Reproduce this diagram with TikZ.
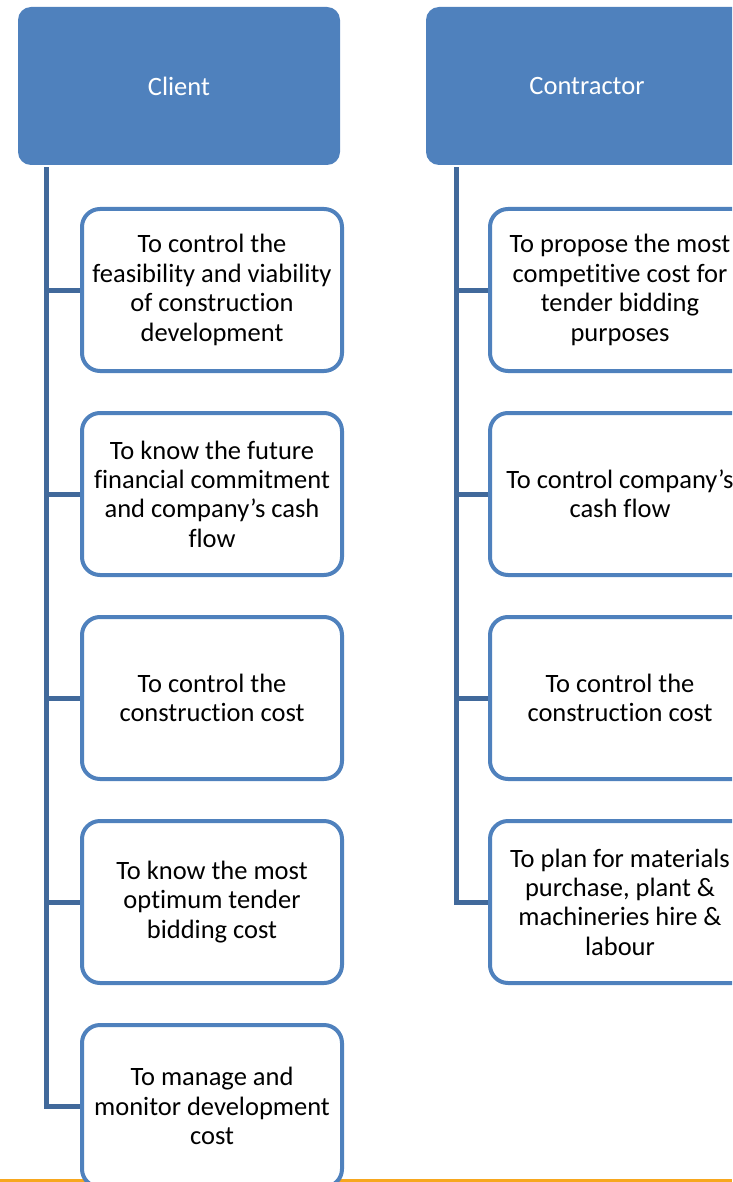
\documentclass[tikz,border=0pt]{standalone}
\usepackage{fontspec}
\setmainfont[Ligatures=NoCommon]{Carlito}
\usetikzlibrary{positioning}
\definecolor{hdrblue}{HTML}{4F81BD}
\definecolor{linkblue}{HTML}{41699B}
\definecolor{barorange}{HTML}{F7A71E}
\tikzset{hdr/.style={fill=hdrblue, rounded corners=13pt, minimum width=322pt, minimum height=158pt, text=white, inner sep=0pt},
  goal/.style={draw=hdrblue, line width=4pt, fill=white, rounded corners=18pt, minimum width=260pt, minimum height=162pt, align=center, inner sep=0pt},
  link/.style={draw=linkblue, line width=5pt}}

\begin{document}
\begin{tikzpicture}[x=1pt, y=-1pt, font=\fontsize{26.5pt}{29.4pt}\selectfont]
  \useasboundingbox (0,0) rectangle (732,1182);
  \clip (0,0) rectangle (732,1182);
  % bottom rule
  \draw[barorange, line width=3pt] (0,1180.5) -- (732,1180.5);
  % headers
  \node[hdr] (cl) at (179,86) {Client};
  \node[hdr] (co) at (587,86) {Contractor};
  % client goals
  \node[goal] (c1) at (212,290)  {To control the\\feasibility and viability\\of construction\\development};
  \node[goal] (c2) at (212,494)  {To know the future\\financial commitment\\and company’s cash\\flow};
  \node[goal] (c3) at (212,698)  {To control the\\construction cost};
  \node[goal] (c4) at (212,902)  {To know the most\\optimum tender\\bidding cost};
  \node[goal] (c5) at (212,1106) {To manage and\\monitor development\\cost};
  % contractor goals
  \node[goal] (k1) at (620,290) {To propose the most\\competitive cost for\\tender bidding\\purposes};
  \node[goal] (k2) at (620,494) {To control company’s\\cash flow};
  \node[goal] (k3) at (620,698) {To control the\\construction cost};
  \node[goal] (k4) at (620,902) {To plan for materials\\purchase, plant \&\\machineries hire \&\\labour};
  % trunk lines
  \foreach \i in {1,...,5}
    \draw[link] ([xshift=29pt,yshift=-2pt]cl.south west) |- (c\i.west);
  \foreach \i in {1,...,4}
    \draw[link] ([xshift=31pt,yshift=-2pt]co.south west) |- (k\i.west);
\end{tikzpicture}
\end{document}
